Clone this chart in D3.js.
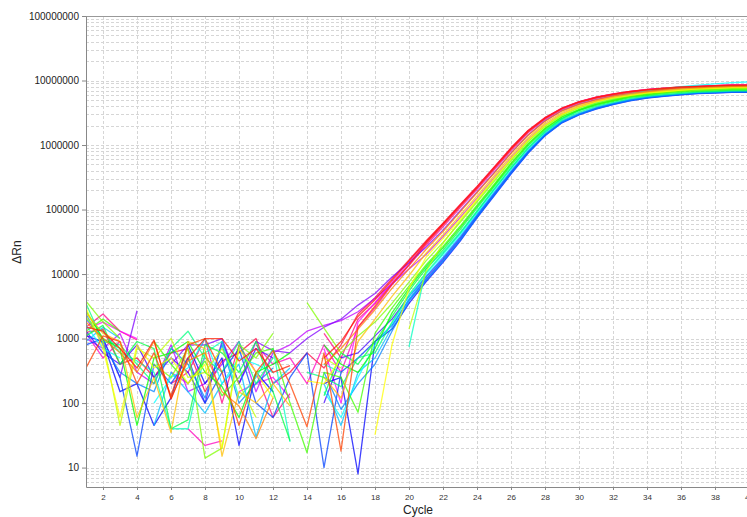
<!DOCTYPE html>
<html>
<head>
<meta charset="utf-8">
<script src="https://cdn.jsdelivr.net/npm/d3@7"></script>
<style>
body { margin: 0; background: #fff; }
text { font-family: "Liberation Sans", Arial, sans-serif; }
</style>
</head>
<body>
<div id="chart"></div>
<script>

var cycles = [1,2,3,4,5,6,7,8,9,10,11,12,13,14,15,16,17,18,19,20,
	21,22,23,24,25,26,27,28,29,30,31,32,33,34,35,36,37,38,39,40]
var xTicks = [2,4,6,8,10,12,14,16,18,20,22,24,26,28,30,32,34,36,38,40]
var yTicks = [10,100,1000,10000,100000,1000000,10000000,100000000]

// one array per well, dRn by cycle (null = negative / not plotted)
var w00 = [1500,1300,700,350,950,115,500,1000,1000,450,700,300,380,null,500,900,2200,4000,8000,16000,
	31600,60300,117000,224000,447000,891000,1660000,2630000,3720000,4680000,5500000,6170000,6760000,7240000,7590000,7940000,8130000,8320000,8510000,8510000]
var w01 = [350,1100,900,200,600,130,800,1000,300,45,300,650,200,43,600,18,1500,3200,7000,14000,
	30000,58000,112000,215000,430000,860000,1600000,2580000,3650000,4600000,5400000,6050000,6650000,7100000,7450000,7800000,8000000,8200000,8350000,8400000]
var w02 = [1800,1000,600,300,900,120,450,600,150,90,28,120,null,null,400,700,1400,2800,6000,12000,
	24000,45700,91200,182000,363000,741000,1410000,2340000,3390000,4270000,5010000,5750000,6310000,6760000,7240000,7590000,7760000,7940000,8130000,8130000]
var w03 = [2500,1200,900,60,250,35,900,700,15,150,100,200,90,null,250,120,900,2000,4500,9500,
	21000,40500,81000,163000,332000,680000,1300000,2190000,3200000,4080000,4850000,5550000,6100000,6600000,7000000,7330000,7580000,7760000,7940000,7950000]
var w04 = [3000,700,60,800,350,500,200,400,20,700,300,120,null,220,200,500,null,32,800,6000,
	18200,35500,70800,145000,302000,617000,1200000,2040000,3020000,3890000,4680000,5370000,5890000,6460000,6760000,7080000,7410000,7590000,7760000,7760000]
var w05 = [2200,900,45,700,500,1000,250,300,700,200,60,null,null,null,500,350,null,null,null,1400,
	11000,30000,66000,138000,290000,600000,1170000,2000000,2980000,3850000,4650000,5350000,5870000,6440000,6750000,7070000,7400000,7580000,7750000,7760000]
var w06 = [3800,1800,1000,null,400,250,700,14,20,800,500,1200,null,3600,1450,600,1100,1800,3500,7500,
	16000,31000,63000,131000,272000,570000,1120000,1930000,2880000,3720000,4470000,5130000,5750000,6240000,6600000,6900000,7150000,7320000,7500000,7500000]
var w07 = [1300,2000,1300,null,900,400,200,450,130,250,600,700,100,17,300,250,72,1200,3000,6500,
	13800,26900,55000,117000,245000,525000,1050000,1820000,2750000,3550000,4270000,4900000,5620000,6030000,6460000,6760000,6920000,7080000,7240000,7240000]
var w08 = [2700,1000,700,45,500,600,900,300,180,60,300,400,600,null,800,400,300,700,2500,6000,
	13000,25500,52000,112000,236000,510000,1020000,1790000,2720000,3520000,4250000,4900000,5650000,6100000,6550000,6900000,7150000,7300000,7450000,7500000]
var w09 = [1100,1600,400,900,700,40,55,800,600,300,900,150,26,null,130,600,400,900,2200,5500,
	12000,23500,48500,105000,224000,480000,970000,1700000,2600000,3400000,4120000,4740000,5450000,5900000,6250000,6550000,6780000,6930000,7080000,7080000]
var w10 = [3500,900,800,400,200,700,1300,500,300,900,200,500,null,300,250,180,500,600,1800,4800,
	10500,20900,42700,93300,204000,437000,891000,1580000,2450000,3240000,3980000,4570000,5250000,5750000,6030000,6310000,6610000,6760000,6920000,6920000]
var w11 = [2000,1300,600,450,300,40,40,600,900,120,250,700,25,null,400,300,null,null,null,740,
	12000,22000,44000,95000,208000,445000,905000,1620000,2550000,3450000,4300000,5050000,5800000,6400000,6900000,7300000,7650000,7950000,8200000,8350000]
var w12 = [1600,700,500,null,100,250,350,1000,200,500,400,300,null,null,150,60,250,800,1700,4500,
	10000,20000,41000,90000,198000,430000,880000,1600000,2550000,3500000,4500000,5350000,6200000,6900000,7500000,8050000,8500000,8900000,9300000,9500000]
var w13 = [900,1500,1000,null,45,300,150,70,200,400,30,200,350,null,200,45,300,500,1500,4000,
	9200,18300,38000,84000,184000,400000,825000,1500000,2350000,3100000,3820000,4450000,5100000,5600000,5950000,6250000,6550000,6700000,6850000,6900000]
var w14 = [2400,800,300,200,150,700,400,120,800,100,200,350,null,null,300,80,200,400,1300,3800,
	7940,15800,33100,75900,166000,363000,759000,1410000,2240000,2950000,3630000,4270000,4900000,5370000,5750000,6030000,6310000,6460000,6610000,6610000]
var w15 = [800,1000,250,15,400,200,500,100,300,700,100,60,250,600,10,300,500,900,1600,4000,
	8300,16500,34500,78000,170000,370000,770000,1430000,2270000,3000000,3700000,4330000,4950000,5420000,5800000,6100000,6380000,6530000,6680000,6700000]
var w16 = [1100,900,150,200,45,120,800,200,500,22,300,150,null,null,200,250,8,900,1400,3500,
	7600,15200,32000,74000,162000,355000,745000,1390000,2210000,2920000,3600000,4230000,4850000,5320000,5700000,5980000,6250000,6400000,6540000,6550000]
var w17 = [1300,600,400,800,250,500,300,100,900,200,700,500,null,null,100,500,600,1100,2000,4500,
	9000,17500,36500,82000,178000,385000,795000,1470000,2320000,3050000,3750000,4380000,5000000,5480000,5860000,6150000,6420000,6570000,6720000,6740000]
var w18 = [2000,1000,250,2700,null,400,800,800,1000,200,900,650,600,1000,1500,2000,3300,5000,9000,15000,
	26000,48000,95000,188000,372000,755000,1430000,2370000,3420000,4300000,5050000,5780000,6330000,6780000,7250000,7600000,7770000,7950000,8150000,8150000]
var w19 = [1000,700,1200,300,200,800,150,200,400,900,150,600,800,1300,1600,1900,2600,4200,7000,12000,
	20000,38000,75000,150000,310000,630000,1220000,2060000,3040000,3900000,4700000,5380000,5900000,6470000,6780000,7100000,7420000,7600000,7770000,7780000]
var w20 = [1400,1800,1300,1000,null,300,200,500,null,150,200,250,120,null,700,100,1800,3600,7500,15000,
	30000,58000,113000,216000,432000,865000,1620000,2590000,3680000,4640000,5460000,6120000,6710000,7190000,7540000,7890000,8090000,8290000,8470000,8480000]
var w21 = [1200,500,900,null,300,null,40,22,26,null,800,400,500,200,800,300,1500,3000,6800,14000,
	30500,59000,115000,220000,440000,880000,1640000,2610000,3700000,4660000,5480000,6150000,6740000,7220000,7570000,7920000,8110000,8300000,8490000,8500000]
var w22 = [1500,2400,1300,950,null,200,300,1000,100,800,300,60,140,null,1200,500,2000,3500,7000,13500,
	28000,54000,106000,205000,408000,820000,1550000,2500000,3580000,4500000,5280000,5970000,6550000,7000000,7400000,7780000,7950000,8150000,8330000,8350000]
var w23 = [1250,1400,400,500,250,600,700,150,450,600,1000,200,300,600,350,800,2400,4300,8500,16500,
	32500,61500,119000,228000,455000,905000,1680000,2660000,3750000,4700000,5520000,6190000,6780000,7260000,7610000,7960000,8150000,8340000,8520000,8530000]

var wells = [w00,w01,w02,w03,w04,w05,w06,w07,w08,w09,w10,w11,
	w12,w13,w14,w15,w16,w17,w18,w19,w20,w21,w22,w23]

var width = 747, height = 517
var padL = 86, padT = 16, plotR = 749, plotB = 487

var svg = d3.select('#chart').append('svg')
	.attr('width', width)
	.attr('height', height)

var x = d3.scaleLinear().domain([1, 40]).range([padL, plotR])
var y = d3.scaleLog().domain([5, 100000000]).range([plotB, padT])

svg.append('clipPath').attr('id', 'plot')
	.append('rect')
	.attr('x', padL).attr('y', padT)
	.attr('width', plotR - padL).attr('height', plotB - padT)

// grid
var grid = svg.append('g')
	.attr('stroke', '#d6d6d6')
	.attr('stroke-width', 1)
	.attr('stroke-dasharray', '3,2')

grid.selectAll('.hg')
	.data(y.ticks().filter(function (t) { return t > 5 && t < 100000000 }))
	.enter().append('line')
		.attr('class', 'hg')
		.attr('x1', padL).attr('x2', plotR)
		.attr('y1', function (d) { return Math.round(y(d)) + 0.5 })
		.attr('y2', function (d) { return Math.round(y(d)) + 0.5 })

grid.selectAll('.vg')
	.data(xTicks)
	.enter().append('line')
		.attr('class', 'vg')
		.attr('y1', padT).attr('y2', plotB)
		.attr('x1', function (d) { return Math.round(x(d)) + 0.5 })
		.attr('x2', function (d) { return Math.round(x(d)) + 0.5 })

// top border
svg.append('line')
	.attr('x1', padL).attr('x2', plotR)
	.attr('y1', padT + 0.5).attr('y2', padT + 0.5)
	.attr('stroke', '#999')

// curves
var line = d3.line()
	.defined(function (d) { return d[1] != null })
	.x(function (d) { return x(d[0]) })
	.y(function (d) { return y(d[1]) })

var curves = svg.append('g').attr('clip-path', 'url(#plot)')

for (var i = wells.length - 1; i >= 0; i--) {
	var pts = cycles.map(function (c, k) { return [c, wells[i][k]] })
	var hue = i == 0 ? 6 : i * 15
	curves.append('path')
		.attr('d', line(pts))
		.attr('fill', 'none')
		.attr('stroke', d3.hsl(hue, 1, 0.5).toString())
		.attr('stroke-opacity', 0.75)
		.attr('stroke-width', 1.3)
		.attr('stroke-linejoin', 'round')
}

// axes
var yAxis = svg.append('g')
	.attr('transform', 'translate(' + padL + ',0)')
	.call(d3.axisLeft(y).tickValues(yTicks).tickFormat(d3.format('d')).tickSize(4).tickSizeOuter(0))
yAxis.select('.domain').attr('stroke', '#888')
yAxis.selectAll('.tick line').attr('stroke', '#888')
yAxis.selectAll('.tick text').attr('font-size', 10).attr('fill', '#222')
	.style('font-family', '"Liberation Sans", Arial, sans-serif')

var xAxis = svg.append('g')
	.attr('transform', 'translate(0,' + plotB + ')')
	.call(d3.axisBottom(x).tickValues(xTicks).tickSize(3).tickSizeOuter(0))
xAxis.select('.domain').attr('stroke', '#888')
xAxis.selectAll('.tick line').attr('stroke', '#888')
xAxis.selectAll('.tick text').attr('font-size', 8).attr('fill', '#333').attr('dy', '0.9em')
	.style('font-family', '"Liberation Sans", Arial, sans-serif')

svg.append('text')
	.attr('x', 418).attr('y', 514)
	.attr('text-anchor', 'middle')
	.attr('font-size', 12)
	.attr('fill', '#222')
	.text('Cycle')

svg.append('text')
	.attr('transform', 'translate(21,252) rotate(-90)')
	.attr('text-anchor', 'middle')
	.attr('font-size', 12)
	.attr('fill', '#222')
	.text('ΔRn')

</script>
</body>
</html>
